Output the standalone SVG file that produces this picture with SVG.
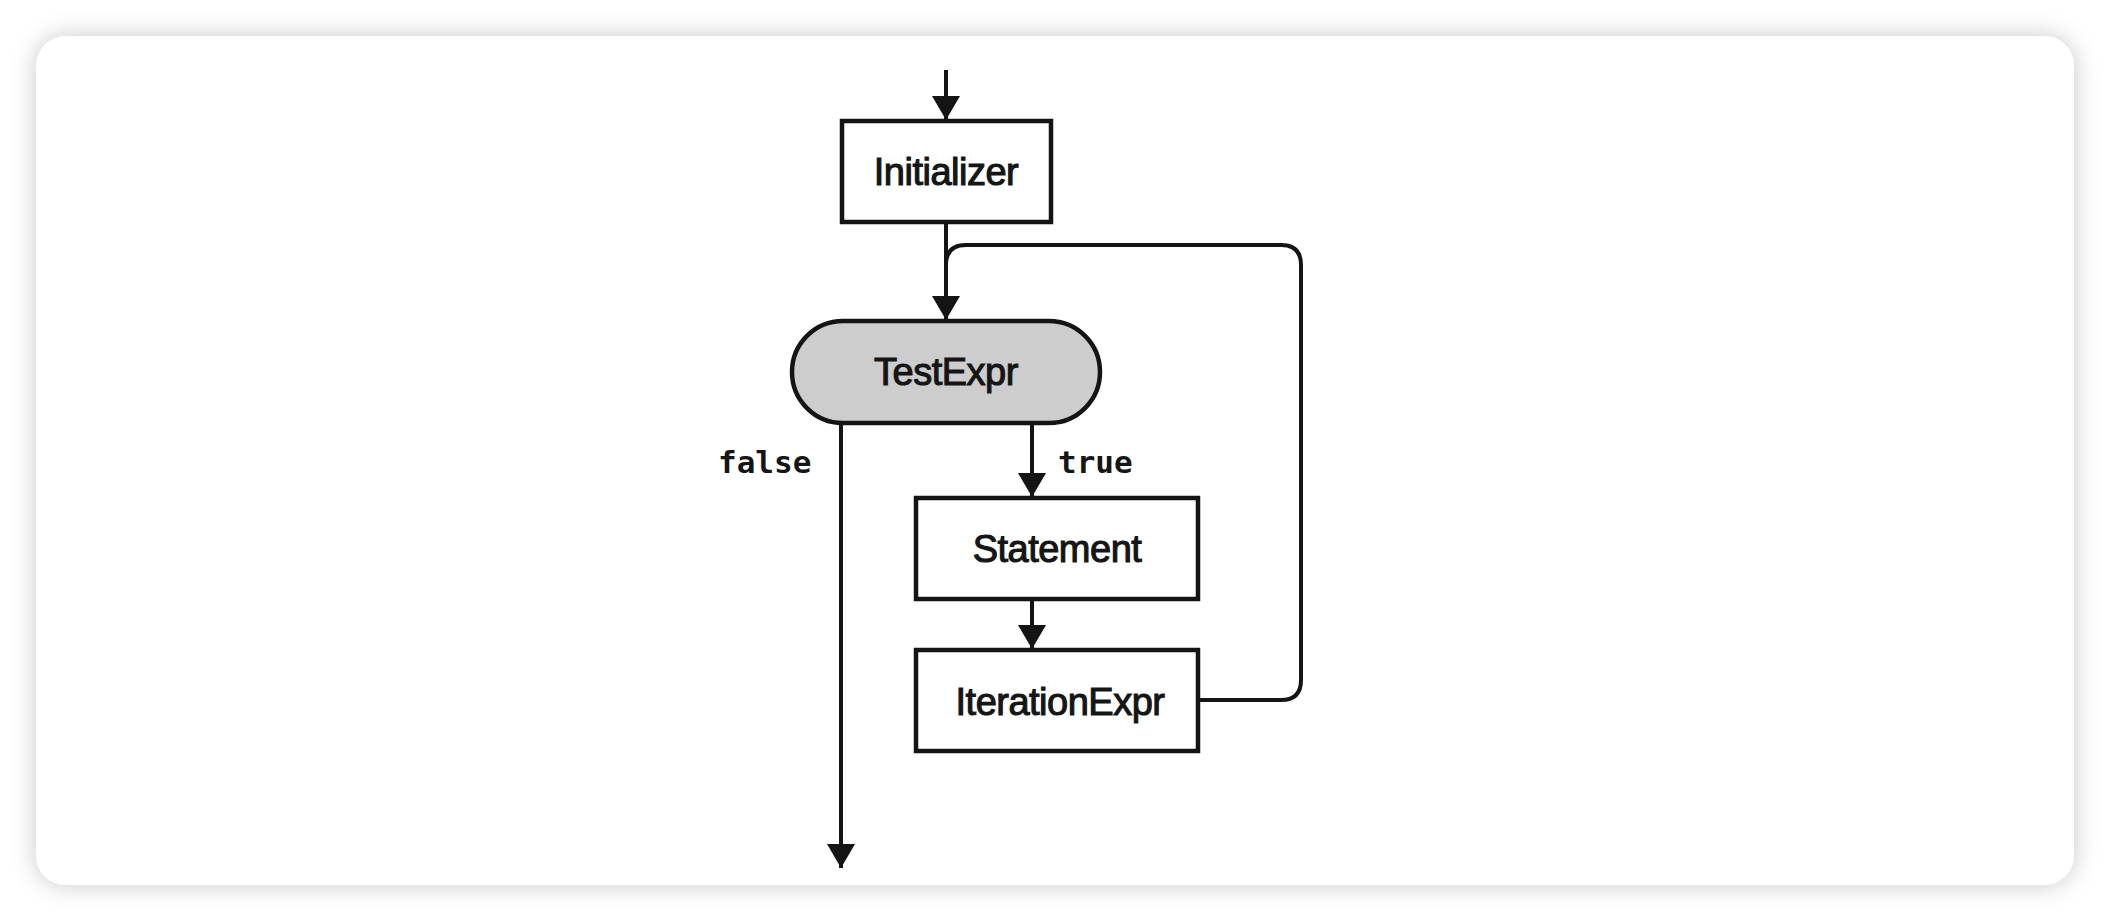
<svg xmlns="http://www.w3.org/2000/svg" width="2110" height="922" viewBox="0 0 2110 922">
  <style>
    .box { fill: #ffffff; stroke: #141414; stroke-width: 4.5; }
    .term { fill: #cdcdcd; stroke: #141414; stroke-width: 4.5; }
    .lbl { font-family: "Liberation Sans", Arial, sans-serif; font-size: 38px; fill: #151515; stroke: #151515; stroke-width: 1.1; text-anchor: middle; letter-spacing: -0.5px; }
    .mono { font-family: "DejaVu Sans Mono", "Liberation Mono", monospace; font-size: 31px; font-weight: bold; fill: #151515; }
    .conn { fill: none; stroke: #141414; stroke-width: 4; }
  </style>
  <defs>
    <filter id="shadow" x="-5%" y="-10%" width="110%" height="120%">
      <feDropShadow dx="0" dy="0" stdDeviation="12" flood-color="#000000" flood-opacity="0.22"/>
    </filter>
    <marker id="arrow" markerUnits="userSpaceOnUse" markerWidth="30" markerHeight="30" viewBox="0 0 30 30" refX="26" refY="15" orient="auto">
      <path d="M2,1 L26,15 L2,29 Z" fill="#141414"/>
    </marker>
  </defs>

  <rect x="0" y="0" width="2110" height="922" fill="#ffffff"/>
  <rect x="36" y="36" width="2038" height="849" rx="30" ry="30" fill="#ffffff" filter="url(#shadow)"/>

  <g id="connectors">
    <line class="conn" x1="946" y1="70" x2="946" y2="120" marker-end="url(#arrow)"/>
    <line class="conn" x1="946" y1="222" x2="946" y2="320" marker-end="url(#arrow)"/>
    <path class="conn" d="M1198,700 H1281 Q1301,700 1301,680 V265 Q1301,245 1281,245 H966 Q946,245 946,265 V300"/>
    <line class="conn" x1="841" y1="423" x2="841" y2="868" marker-end="url(#arrow)"/>
    <line class="conn" x1="1032" y1="423" x2="1032" y2="497" marker-end="url(#arrow)"/>
    <line class="conn" x1="1032" y1="599" x2="1032" y2="649" marker-end="url(#arrow)"/>
    <text class="mono" x="718" y="473">false</text>
    <text class="mono" x="1058" y="473">true</text>
  </g>

  <g id="initializer">
    <rect class="box" x="842" y="121" width="209" height="101"/>
    <text class="lbl" x="946" y="185">Initializer</text>
  </g>

  <g id="testexpr">
    <rect class="term" x="792" y="321" width="308" height="102" rx="51" ry="51"/>
    <text class="lbl" x="946" y="385">TestExpr</text>
  </g>

  <g id="statement">
    <rect class="box" x="916" y="498" width="282" height="101"/>
    <text class="lbl" x="1057" y="562">Statement</text>
  </g>

  <g id="iterationexpr">
    <rect class="box" x="916" y="650" width="282" height="101"/>
    <text class="lbl" x="1060" y="715">IterationExpr</text>
  </g>
</svg>
